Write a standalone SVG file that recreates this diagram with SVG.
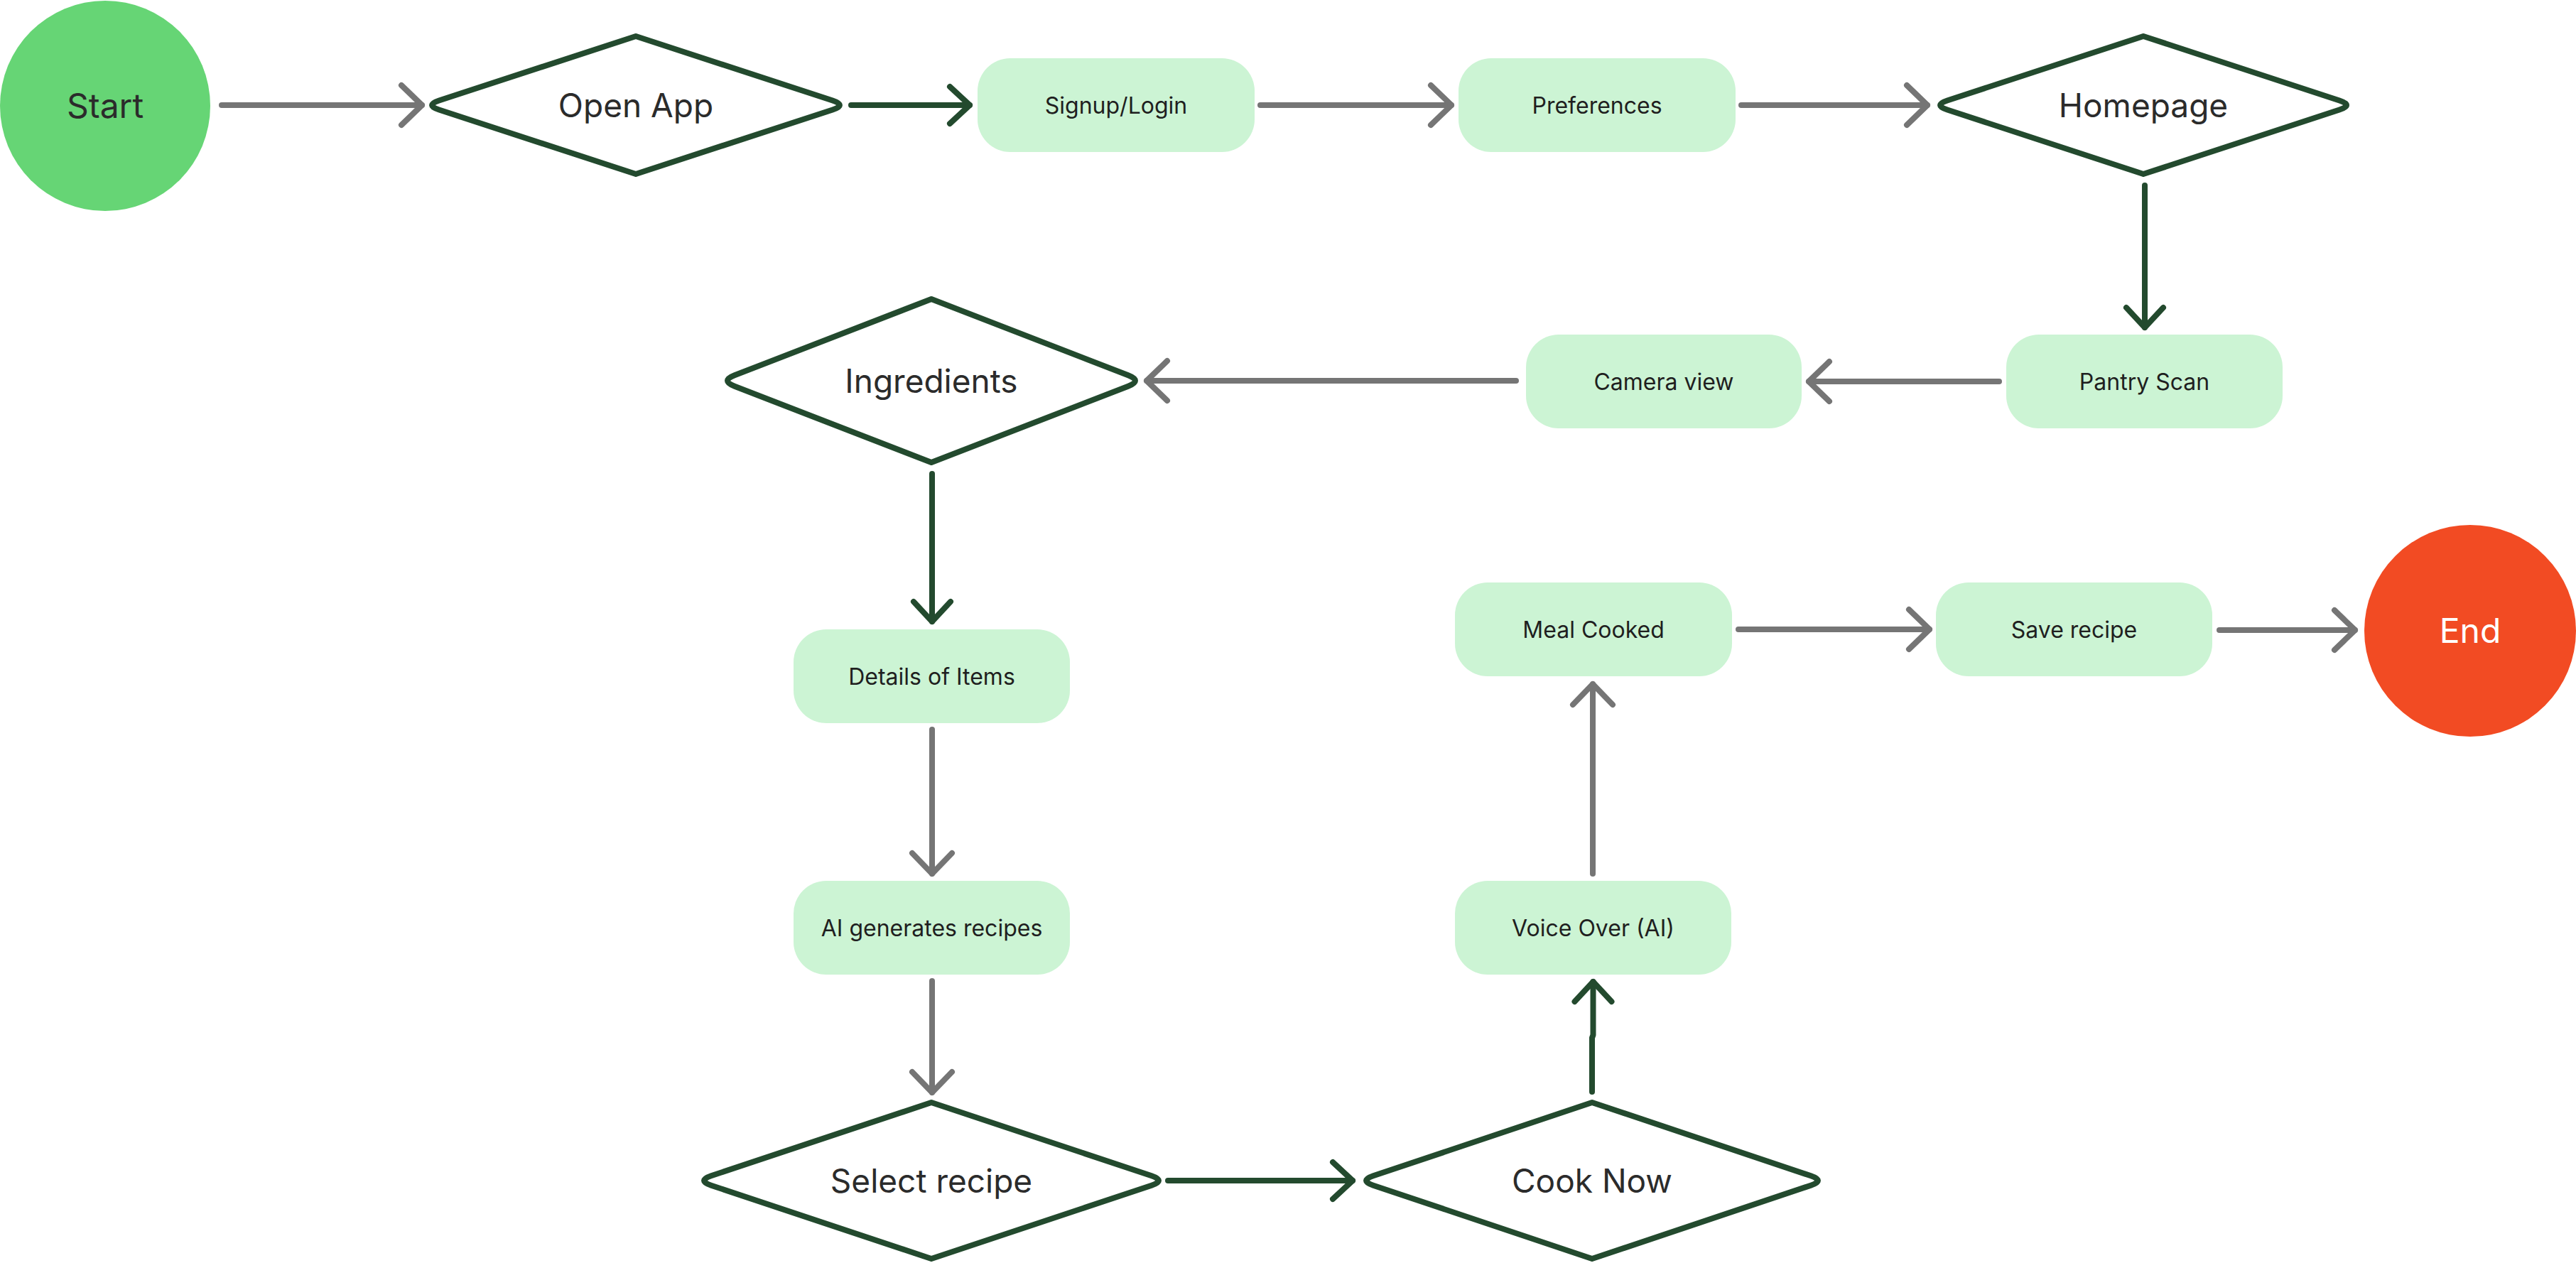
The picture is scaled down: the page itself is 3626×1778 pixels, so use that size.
<svg xmlns="http://www.w3.org/2000/svg" width="3626" height="1778" viewBox="0 0 3626 1778">
<style>
.bg{fill:#ffffff}
.term-start{fill:#66D575}
.term-end{fill:#F24B23}
.dia{fill:#ffffff;stroke:#234A2E;stroke-width:8;stroke-linejoin:round}
.box{fill:#CCF4D4}
.t{font-family:Inter,"Noto Sans","Liberation Sans",sans-serif;text-anchor:middle}
.tl{font-size:48px;fill:#2b2b2b}
.tw{font-size:48px;fill:#ffffff}
.td{font-size:46px;fill:#2b2b2b}
.tb{font-size:32px;fill:#1f1f1f}
.cg{fill:none;stroke:#757575;stroke-width:8;stroke-linecap:round;stroke-linejoin:round}
.cd{fill:none;stroke:#234A2E;stroke-width:8;stroke-linecap:round;stroke-linejoin:round}
</style>
<defs>
<marker id="ahg" markerUnits="userSpaceOnUse" markerWidth="80" markerHeight="80" viewBox="-40 -40 80 80" refX="0" refY="0" orient="auto" overflow="visible">
<path d="M-29,-28 L0,0 L-29,28" fill="none" stroke="#757575" stroke-width="8" stroke-linecap="round" stroke-linejoin="round"/>
</marker>
<marker id="ahd" markerUnits="userSpaceOnUse" markerWidth="80" markerHeight="80" viewBox="-40 -40 80 80" refX="0" refY="0" orient="auto" overflow="visible">
<path d="M-28,-26 L0,0 L-28,26" fill="none" stroke="#234A2E" stroke-width="8" stroke-linecap="round" stroke-linejoin="round"/>
</marker>
</defs>
<rect class="bg" x="0" y="0" width="3626" height="1778"/>

<g id="connectors">
<path id="c1" class="cg" d="M312,148 L594,148" marker-end="url(#ahg)"/>
<path id="c2" class="cd" d="M1198,148 L1365,148" marker-end="url(#ahd)"/>
<path id="c3" class="cg" d="M1774,148 L2043,148" marker-end="url(#ahg)"/>
<path id="c4" class="cg" d="M2451,148 L2713,148" marker-end="url(#ahg)"/>
<path id="c5" class="cd" d="M3019,261 L3019,461" marker-end="url(#ahd)"/>
<path id="c6" class="cg" d="M2814,537 L2546,537" marker-end="url(#ahg)"/>
<path id="c7" class="cg" d="M2134,536 L1614,536" marker-end="url(#ahg)"/>
<path id="c8" class="cd" d="M1312,667 L1312,875" marker-end="url(#ahd)"/>
<path id="c9" class="cg" d="M1312,1027 L1312,1230" marker-end="url(#ahg)"/>
<path id="c10" class="cg" d="M1312,1381 L1312,1538" marker-end="url(#ahg)"/>
<path id="c11" class="cd" d="M1644,1662 L1904,1662" marker-end="url(#ahd)"/>
<path id="c12" class="cd" d="M2241,1537 L2241,1461 L2242.5,1457 L2242.5,1382" marker-end="url(#ahd)"/>
<path id="c13" class="cg" d="M2242,1230 L2242,963" marker-end="url(#ahg)"/>
<path id="c14" class="cg" d="M2447,886 L2716,886" marker-end="url(#ahg)"/>
<path id="c15" class="cg" d="M3124,887 L3315,887" marker-end="url(#ahg)"/>
</g>

<g id="start">
<circle class="term-start" cx="148" cy="149" r="148"/>
<text class="t tl" x="148" y="166">Start</text>
</g>

<g id="open-app">
<path class="dia" d="M618,141.5 L895,51 L1172,141.5 Q1192,148 1172,154.5 L895,245 L618,154.5 Q598,148 618,141.5 Z"/>
<text class="t td" x="895" y="165">Open App</text>
</g>

<g id="signup-login">
<rect class="box" x="1376" y="82" width="390" height="132" rx="46"/>
<text class="t tb" x="1571" y="160">Signup/Login</text>
</g>

<g id="preferences">
<rect class="box" x="2053" y="82" width="390" height="132" rx="46"/>
<text class="t tb" x="2248" y="160">Preferences</text>
</g>

<g id="homepage">
<path class="dia" d="M2741,141.5 L3017,51 L3293,141.5 Q3313,148 3293,154.5 L3017,245 L2741,154.5 Q2721,148 2741,141.5 Z"/>
<text class="t td" x="3017" y="165">Homepage</text>
</g>

<g id="pantry-scan">
<rect class="box" x="2824" y="471" width="389" height="132" rx="46"/>
<text class="t tb" x="3018.5" y="549">Pantry Scan</text>
</g>

<g id="camera-view">
<rect class="box" x="2148" y="471" width="388" height="132" rx="46"/>
<text class="t tb" x="2342" y="549">Camera view</text>
</g>

<g id="ingredients">
<path class="dia" d="M1034,528.3 L1311,421 L1588,528.3 Q1608,536 1588,543.7 L1311,651 L1034,543.7 Q1014,536 1034,528.3 Z"/>
<text class="t td" x="1311" y="553">Ingredients</text>
</g>

<g id="details-of-items">
<rect class="box" x="1117" y="886" width="389" height="132" rx="46"/>
<text class="t tb" x="1311.5" y="964">Details of Items</text>
</g>

<g id="ai-generates-recipes">
<rect class="box" x="1117" y="1240" width="389" height="132" rx="46"/>
<text class="t tb" x="1311.5" y="1318">AI generates recipes</text>
</g>

<g id="select-recipe">
<path class="dia" d="M1001,1655.3 L1311,1552 L1621,1655.3 Q1641,1662 1621,1668.7 L1311,1772 L1001,1668.7 Q981,1662 1001,1655.3 Z"/>
<text class="t td" x="1311" y="1679">Select recipe</text>
</g>

<g id="cook-now">
<path class="dia" d="M1933,1655.3 L2241,1552 L2549,1655.3 Q2569,1662 2549,1668.7 L2241,1772 L1933,1668.7 Q1913,1662 1933,1655.3 Z"/>
<text class="t td" x="2241" y="1679">Cook Now</text>
</g>

<g id="voice-over">
<rect class="box" x="2048" y="1240" width="389" height="132" rx="46"/>
<text class="t tb" x="2242.5" y="1318">Voice Over (AI)</text>
</g>

<g id="meal-cooked">
<rect class="box" x="2048" y="820" width="390" height="132" rx="46"/>
<text class="t tb" x="2243" y="898">Meal Cooked</text>
</g>

<g id="save-recipe">
<rect class="box" x="2725" y="820" width="389" height="132" rx="46"/>
<text class="t tb" x="2919.5" y="898">Save recipe</text>
</g>

<g id="end">
<circle class="term-end" cx="3477" cy="888" r="149"/>
<text class="t tw" x="3477" y="905">End</text>
</g>
</svg>
